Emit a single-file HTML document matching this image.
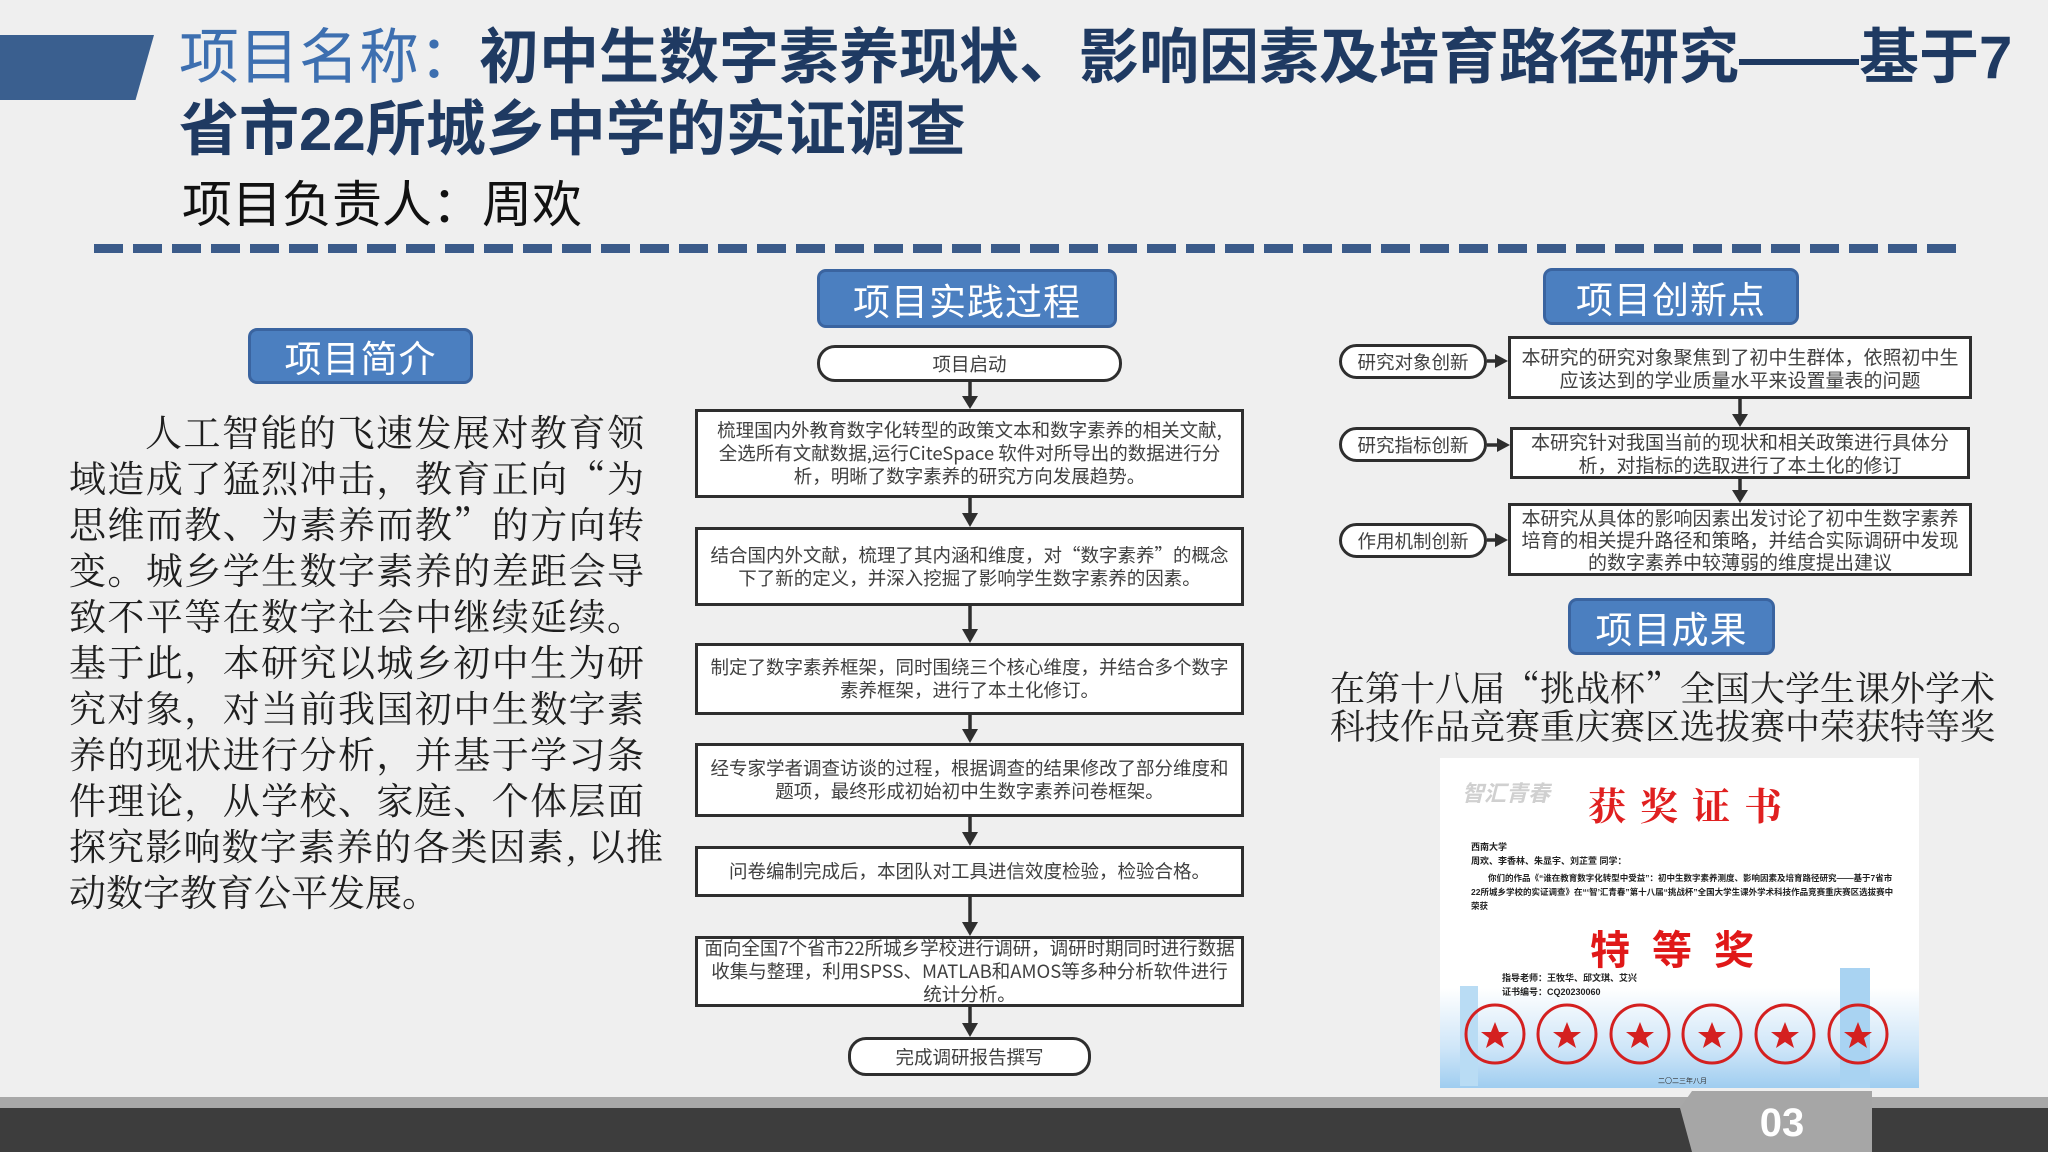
<!DOCTYPE html>
<html><head><meta charset="utf-8">
<style>
*{margin:0;padding:0;box-sizing:border-box}
body{width:2048px;height:1152px;overflow:hidden;background:#efefef;position:relative;font-family:"Liberation Sans","Noto Sans CJK SC",sans-serif}
.abs{position:absolute}
.hdr{position:absolute;background:#4b7fc0;border:3px solid #3a64a0;border-radius:9px;color:#fff;font-size:37px;display:flex;align-items:center;justify-content:center;letter-spacing:1px}
.box{position:absolute;background:#fff;border:3px solid #2e2e2e;color:#404040;font-size:18.5px;line-height:23px;display:flex;align-items:center;justify-content:center;text-align:center;padding:0 10px;font-family:"Noto Sans CJK SC",sans-serif}
.pill{position:absolute;background:#fff;border:3px solid #2e2e2e;border-radius:18px;color:#404040;font-size:18.5px;display:flex;align-items:center;justify-content:center}
.para{position:absolute;left:69px;width:575px;font-family:"Noto Serif CJK SC",serif;font-size:37px;color:#1e1e1e;line-height:46px}
.para div{text-align:justify;text-align-last:justify;white-space:nowrap;height:46px}
.rtxt{position:absolute;left:1330px;font-family:"Noto Serif CJK SC",serif;font-size:35px;color:#222;line-height:38px;white-space:nowrap}
</style></head><body>

<!-- title -->
<div class="abs" style="left:0;top:35px;width:154px;height:65px;background:#3a5f8f;clip-path:polygon(0 0,100% 0,88% 100%,0 100%)"></div>
<div class="abs" style="left:179px;top:24px;font-size:60px;line-height:68px;white-space:nowrap;font-weight:bold;color:#1f3a62"><span style="color:#3d6fb0;font-weight:normal">项目名称：</span>初中生数字素养现状、影响因素及培育路径研究——基于7</div>
<div class="abs" style="left:179px;top:96px;font-size:60px;line-height:68px;white-space:nowrap;font-weight:bold;color:#1f3a62">省市22所城乡中学的实证调查</div>
<div class="abs" style="left:182px;top:175px;font-size:50px;line-height:60px;white-space:nowrap;color:#111">项目负责人：周欢</div>
<div class="abs" style="left:94px;top:244px;width:1862px;height:9px;background:repeating-linear-gradient(90deg,#3b5b8a 0 29px,transparent 29px 39px)"></div>

<!-- left -->
<div class="hdr" style="left:248px;top:328px;width:225px;height:56px">项目简介</div>
<div class="para" style="top:407px">
<div style="padding-left:76px">人工智能的飞速发展对教育领</div>
<div>域造成了猛烈冲击，教育正向“为</div>
<div>思维而教、为素养而教”的方向转</div>
<div>变。城乡学生数字素养的差距会导</div>
<div>致不平等在数字社会中继续延续。</div>
<div>基于此，本研究以城乡初中生为研</div>
<div>究对象，对当前我国初中生数字素</div>
<div>养的现状进行分析，并基于学习条</div>
<div>件理论，从学校、家庭、个体层面</div>
<div style="width:594px">探究影响数字素养的各类因素, 以推</div>
<div style="text-align-last:left">动数字教育公平发展。</div>
</div>

<!-- middle -->
<div class="hdr" style="left:817px;top:269px;width:300px;height:59px">项目实践过程</div>
<div class="pill" style="left:817px;top:345px;width:305px;height:37px">项目启动</div>
<div class="box" style="left:695px;top:409px;width:549px;height:89px">梳理国内外教育数字化转型的政策文本和数字素养的相关文献,全选所有文献数据,运行CiteSpace 软件对所导出的数据进行分析，明晰了数字素养的研究方向发展趋势。</div>
<div class="box" style="left:695px;top:527px;width:549px;height:79px">结合国内外文献，梳理了其内涵和维度，对“数字素养”的概念下了新的定义，并深入挖掘了影响学生数字素养的因素。</div>
<div class="box" style="left:695px;top:643px;width:549px;height:72px">制定了数字素养框架，同时围绕三个核心维度，并结合多个数字素养框架，进行了本土化修订。</div>
<div class="box" style="left:695px;top:743px;width:549px;height:74px">经专家学者调查访谈的过程，根据调查的结果修改了部分维度和题项，最终形成初始初中生数字素养问卷框架。</div>
<div class="box" style="left:695px;top:846px;width:549px;height:51px">问卷编制完成后，本团队对工具进信效度检验，检验合格。</div>
<div class="box" style="left:695px;top:936px;width:549px;height:71px;padding:0 6px">面向全国7个省市22所城乡学校进行调研，调研时期同时进行数据收集与整理，利用SPSS、MATLAB和AMOS等多种分析软件进行统计分析。</div>
<div class="pill" style="left:848px;top:1037px;width:243px;height:39px">完成调研报告撰写</div>

<!-- right -->
<div class="hdr" style="left:1543px;top:268px;width:256px;height:57px">项目创新点</div>
<div class="pill" style="left:1339px;top:344px;width:148px;height:35px">研究对象创新</div>
<div class="pill" style="left:1339px;top:427px;width:148px;height:35px">研究指标创新</div>
<div class="pill" style="left:1339px;top:523px;width:148px;height:35px">作用机制创新</div>
<div class="box" style="left:1508px;top:336px;width:464px;height:63px;font-size:19px">本研究的研究对象聚焦到了初中生群体，依照初中生应该达到的学业质量水平来设置量表的问题</div>
<div class="box" style="left:1510px;top:427px;width:460px;height:52px;font-size:19px">本研究针对我国当前的现状和相关政策进行具体分析，对指标的选取进行了本土化的修订</div>
<div class="box" style="left:1508px;top:503px;width:464px;height:73px;font-size:19px;line-height:22px">本研究从具体的影响因素出发讨论了初中生数字素养培育的相关提升路径和策略，并结合实际调研中发现的数字素养中较薄弱的维度提出建议</div>
<div class="hdr" style="left:1568px;top:598px;width:207px;height:57px">项目成果</div>
<div class="rtxt" style="top:668px">在第十八届“挑战杯”全国大学生课外学术</div>
<div class="rtxt" style="top:706px">科技作品竞赛重庆赛区选拔赛中荣获特等奖</div>

<!-- connectors -->
<svg class="abs" style="left:0;top:0" width="2048" height="1152">
<g stroke="#2e2e2e" stroke-width="3.5" fill="#2e2e2e">
<line x1="970" y1="382" x2="970" y2="398"/><polygon points="962,396 978,396 970,409" stroke="none"/>
<line x1="970" y1="498" x2="970" y2="515"/><polygon points="962,513 978,513 970,527" stroke="none"/>
<line x1="970" y1="606" x2="970" y2="631"/><polygon points="962,629 978,629 970,643" stroke="none"/>
<line x1="970" y1="715" x2="970" y2="731"/><polygon points="962,729 978,729 970,743" stroke="none"/>
<line x1="970" y1="817" x2="970" y2="834"/><polygon points="962,832 978,832 970,846" stroke="none"/>
<line x1="970" y1="897" x2="970" y2="924"/><polygon points="962,922 978,922 970,936" stroke="none"/>
<line x1="970" y1="1007" x2="970" y2="1025"/><polygon points="962,1023 978,1023 970,1037" stroke="none"/>
<line x1="1740" y1="399" x2="1740" y2="416"/><polygon points="1732,414 1748,414 1740,427" stroke="none"/>
<line x1="1740" y1="479" x2="1740" y2="492"/><polygon points="1732,490 1748,490 1740,503" stroke="none"/>
<line x1="1487" y1="361" x2="1497" y2="361"/><polygon points="1495,354 1495,368 1508,361" stroke="none"/>
<line x1="1487" y1="445" x2="1499" y2="445"/><polygon points="1497,438 1497,452 1510,445" stroke="none"/>
<line x1="1487" y1="540" x2="1497" y2="540"/><polygon points="1495,533 1495,547 1508,540" stroke="none"/>
</g>
</svg>

<!-- certificate -->
<div class="abs" style="left:1440px;top:758px;width:479px;height:330px;background:#fff;overflow:hidden">
 <div class="abs" style="left:0;top:230px;width:479px;height:100px;background:linear-gradient(180deg,rgba(180,215,245,0) 0%,#cfe6f8 60%,#9fcdf0 100%)"></div>
 <div class="abs" style="left:400px;top:210px;width:30px;height:120px;background:#a9d3f2"></div>
 <div class="abs" style="left:20px;top:228px;width:18px;height:100px;background:#b9dcf4"></div>
 <div class="abs" style="left:22px;top:18px;font-size:22px;font-weight:bold;font-style:italic;color:#d0d0d0">智汇青春</div>
 <div class="abs" style="left:148px;top:18px;font-size:38px;font-weight:bold;color:#e02020;letter-spacing:14px;font-family:'Noto Serif CJK SC',serif">获奖证书</div>
 <div class="abs" style="left:31px;top:82px;font-size:9px;color:#222;line-height:14px;font-weight:bold">西南大学<br>周欢、李香林、朱显宇、刘芷萱 同学：</div>
 <div class="abs" style="left:31px;top:113px;width:425px;font-size:8.5px;color:#222;line-height:14px;font-weight:bold">　　你们的作品《“谁在教育数字化转型中受益”：初中生数字素养测度、影响因素及培育路径研究——基于7省市22所城乡学校的实证调查》在“‘智’汇青春”第十八届“挑战杯”全国大学生课外学术科技作品竞赛重庆赛区选拔赛中荣获</div>
 <div class="abs" style="left:150px;top:160px;font-size:40px;font-weight:bold;color:#e01818;letter-spacing:22px">特等奖</div>
 <div class="abs" style="left:62px;top:213px;font-size:9px;color:#222;line-height:14px;font-weight:bold">指导老师：王牧华、邱文琪、艾兴<br>证书编号：CQ20230060</div>
 <svg class="abs" style="left:0;top:240px" width="479" height="80">
  <g fill="none" stroke="#d42020" stroke-width="3">
   <circle cx="55" cy="36" r="29"/><circle cx="127" cy="36" r="29"/><circle cx="200" cy="36" r="29"/><circle cx="272" cy="36" r="29"/><circle cx="345" cy="36" r="29"/><circle cx="418" cy="36" r="29"/>
  </g>
  <g fill="#d42020">
   <polygon points="55,24 59,34 69,34 61,40 64,50 55,44 46,50 49,40 41,34 51,34"/>
   <polygon points="127,24 131,34 141,34 133,40 136,50 127,44 118,50 121,40 113,34 123,34"/>
   <polygon points="200,24 204,34 214,34 206,40 209,50 200,44 191,50 194,40 186,34 196,34"/>
   <polygon points="272,24 276,34 286,34 278,40 281,50 272,44 263,50 266,40 258,34 268,34"/>
   <polygon points="345,24 349,34 359,34 351,40 354,50 345,44 336,50 339,40 331,34 341,34"/>
   <polygon points="418,24 422,34 432,34 424,40 427,50 418,44 409,50 412,40 404,34 414,34"/>
  </g>
 </svg>
 <div class="abs" style="left:218px;top:318px;font-size:7px;color:#333">二〇二三年八月</div>
</div>

<!-- footer -->
<div class="abs" style="left:0;top:1097px;width:2048px;height:11px;background:#a8a8a8"></div>
<div class="abs" style="left:0;top:1108px;width:2048px;height:44px;background:#3d3d3d"></div>
<div class="abs" style="left:1680px;top:1091px;width:192px;height:61px;background:#a6a6a6;clip-path:polygon(12px 0,100% 0,100% 100%,12px 100%,0 17px)"></div>
<div class="abs" style="left:1692px;top:1098px;width:180px;height:50px;color:#fff;font-size:40px;font-weight:bold;display:flex;align-items:center;justify-content:center">03</div>

</body></html>
